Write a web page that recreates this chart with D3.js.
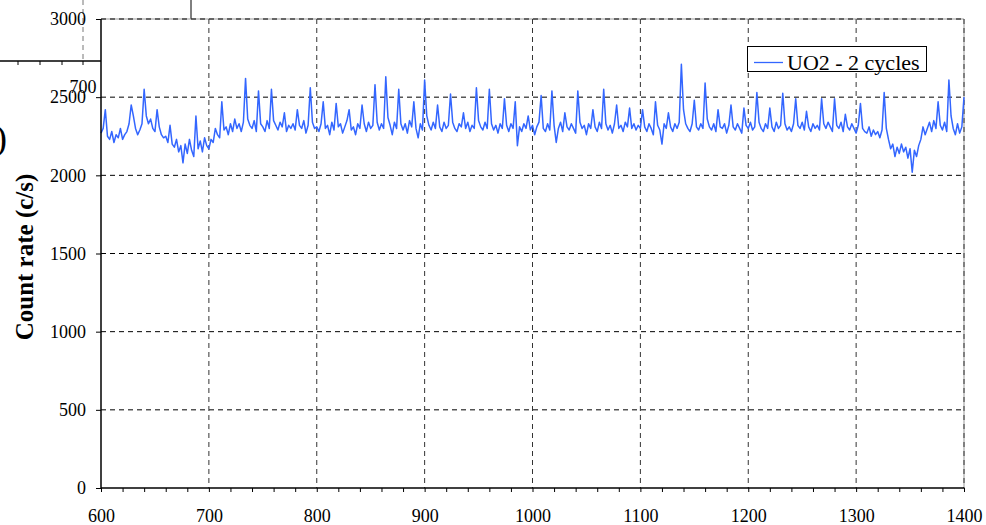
<!DOCTYPE html>
<html><head><meta charset="utf-8">
<script src="https://cdn.jsdelivr.net/npm/d3@7"></script>
<style>body{margin:0;background:#fff;overflow:hidden}svg{display:block}</style>
</head><body>
<svg id="c" width="986" height="525"></svg>
<script>
// time axis sampling (s) and count rates (c/s)
const timeStart = 600, timeStep = 2;
const countRate = [
2270,2300,2420,2250,2230,2280,2210,2260,2240,2300,
2230,2260,2280,2330,2450,2380,2300,2260,2290,2330,
2550,2380,2330,2360,2300,2280,2420,2310,2260,2240,
2250,2210,2320,2200,2180,2230,2150,2190,2080,2200,
2140,2230,2160,2120,2380,2170,2220,2150,2240,2190,
2170,2230,2210,2300,2260,2240,2470,2290,2310,2260,
2330,2280,2360,2300,2330,2280,2340,2620,2360,2320,
2300,2350,2280,2540,2330,2310,2280,2350,2300,2550,
2350,2320,2290,2340,2310,2400,2280,2320,2300,2330,
2290,2420,2320,2300,2350,2270,2320,2560,2340,2300,
2310,2280,2330,2470,2300,2320,2260,2340,2290,2460,
2310,2330,2270,2310,2350,2420,2290,2310,2260,2330,
2300,2450,2330,2280,2340,2300,2320,2580,2340,2290,
2330,2300,2630,2370,2320,2260,2340,2300,2550,2330,
2290,2330,2270,2350,2310,2470,2300,2240,2330,2290,
2610,2380,2320,2290,2340,2300,2450,2310,2280,2340,
2300,2320,2520,2340,2300,2280,2330,2310,2400,2300,
2340,2280,2320,2300,2560,2350,2310,2290,2340,2300,
2550,2330,2290,2320,2270,2330,2300,2490,2320,2280,
2330,2300,2470,2190,2310,2280,2330,2300,2380,2290,
2320,2260,2310,2340,2510,2300,2280,2330,2290,2540,
2320,2210,2300,2340,2280,2400,2310,2290,2330,2300,
2270,2540,2340,2300,2320,2260,2330,2300,2420,2310,
2280,2340,2300,2550,2330,2290,2320,2270,2330,2450,
2300,2320,2280,2340,2310,2430,2300,2330,2290,2320,
2300,2420,2310,2280,2330,2300,2260,2470,2320,2290,
2200,2330,2300,2400,2310,2280,2330,2300,2340,2710,
2420,2330,2300,2280,2330,2480,2310,2290,2330,2300,
2590,2360,2310,2290,2330,2280,2420,2310,2300,2330,
2270,2320,2450,2310,2290,2330,2300,2270,2430,2320,
2300,2340,2290,2310,2530,2340,2300,2280,2330,2300,
2430,2310,2280,2340,2300,2320,2525,2330,2290,2310,
2280,2330,2490,2320,2300,2340,2290,2410,2310,2280,
2330,2300,2320,2290,2490,2330,2300,2340,2310,2280,
2490,2320,2300,2340,2280,2390,2310,2290,2330,2300,
2270,2320,2460,2300,2280,2270,2310,2250,2290,2260,
2280,2240,2290,2530,2300,2230,2170,2200,2120,2180,
2140,2200,2150,2180,2110,2170,2020,2160,2120,2190,
2230,2310,2260,2300,2340,2280,2350,2300,2470,2320,
2290,2340,2280,2610,2380,2300,2260,2330,2270,2310,
2500];
const xTickValues = [600,700,800,900,1000,1100,1200,1300,1400];
const yTickValues = [0,500,1000,1500,2000,2500,3000];
const seriesName = "UO2 - 2 cycles";
const yTitle = "Count rate (c/s)";

const svg = d3.select("#c");
const L = 101, R = 964, T = 19, B = 488;
const x = d3.scaleLinear().domain([600,1400]).range([L,R]);
const y = d3.scaleLinear().domain([0,3000]).range([B,T]);
const serif = "'Liberation Serif','Times New Roman',serif";

// fragment of an overlapping figure (top-left)
const frag = svg.append("g");
frag.append("line").attr("x1",0).attr("x2",L).attr("y1",61).attr("y2",61).attr("stroke","#000").attr("stroke-width",1.3);
[18,40,62,83].forEach(px=>frag.append("line").attr("x1",px).attr("x2",px).attr("y1",61).attr("y2",65).attr("stroke","#000"));
frag.append("line").attr("x1",83).attr("x2",83).attr("y1",0).attr("y2",61).attr("stroke","#777").attr("stroke-dasharray","5,4");
frag.append("line").attr("x1",191).attr("x2",191).attr("y1",0).attr("y2",T).attr("stroke","#000");
frag.append("text").attr("x",83).attr("y",93).attr("text-anchor","middle").attr("font-family",serif).attr("font-size",18).text("700");
frag.append("text").attr("x",-5).attr("y",150).attr("font-family",serif).attr("font-size",36).text(")");

// grid
const grid = svg.append("g");
yTickValues.filter(v=>v>0).forEach(v=>{
  if (v===3000) grid.append("line").attr("x1",L).attr("x2",R).attr("y1",y(v)).attr("y2",y(v)).attr("stroke","#999");
  grid.append("line").attr("x1",L).attr("x2",R).attr("y1",y(v)).attr("y2",y(v))
    .attr("stroke","#000").attr("stroke-dasharray","5,4");
});
xTickValues.filter(v=>v>600).forEach(v=>{
  if (v===1400) grid.append("line").attr("x1",x(v)).attr("x2",x(v)).attr("y1",T).attr("y2",B).attr("stroke","#999");
  grid.append("line").attr("x1",x(v)).attr("x2",x(v)).attr("y1",T).attr("y2",B)
    .attr("stroke","#333").attr("stroke-dasharray","5,4");
});

// series
const data = countRate.map((c,i)=>({t: timeStart + i*timeStep, c}));
svg.append("path").datum(data)
  .attr("fill","none").attr("stroke","#3366ff").attr("stroke-width",1.5).attr("stroke-linejoin","round")
  .attr("d", d3.line().x(d=>x(d.t)).y(d=>y(d.c)));

// axes
const yAx = svg.append("g").attr("transform",`translate(${L},0)`)
  .call(d3.axisLeft(y).tickValues(yTickValues).tickSize(5).tickPadding(10).tickFormat(d3.format("d")));
yAx.select(".domain").remove();
yAx.selectAll("text").attr("font-family",serif).attr("font-size",18).attr("fill","#000");
yAx.selectAll("line").attr("stroke","#000");

const minorX = d3.range(600,1401,20);
const xAx = svg.append("g").attr("transform",`translate(0,${B})`)
  .call(d3.axisBottom(x).tickValues(minorX).tickSize(4).tickFormat(d=> xTickValues.includes(d) ? d : ""));
xAx.select(".domain").remove();
xAx.selectAll("text").attr("font-family",serif).attr("font-size",18).attr("fill","#000").attr("dy",null).attr("y",34);
xAx.selectAll("line").attr("stroke","#000");

svg.append("line").attr("x1",L).attr("x2",L).attr("y1",T).attr("y2",B).attr("stroke","#000").attr("stroke-width",1.5);
svg.append("line").attr("x1",L).attr("x2",R).attr("y1",B).attr("y2",B).attr("stroke","#000").attr("stroke-width",1.5);

// y title
svg.append("text").attr("transform","translate(33,257) rotate(-90)").attr("text-anchor","middle")
  .attr("font-family",serif).attr("font-weight","bold").attr("font-size",25).text(yTitle);

// legend
const lg = svg.append("g");
lg.append("rect").attr("x",747.5).attr("y",46.5).attr("width",179).attr("height",25).attr("fill","#fff").attr("stroke","#000");
lg.append("line").attr("x1",754).attr("x2",783).attr("y1",62.5).attr("y2",62.5).attr("stroke","#3366ff").attr("stroke-width",1.3);
lg.append("text").attr("x",787).attr("y",70).attr("font-family",serif).attr("font-size",22).text(seriesName);
</script>
</body></html>
